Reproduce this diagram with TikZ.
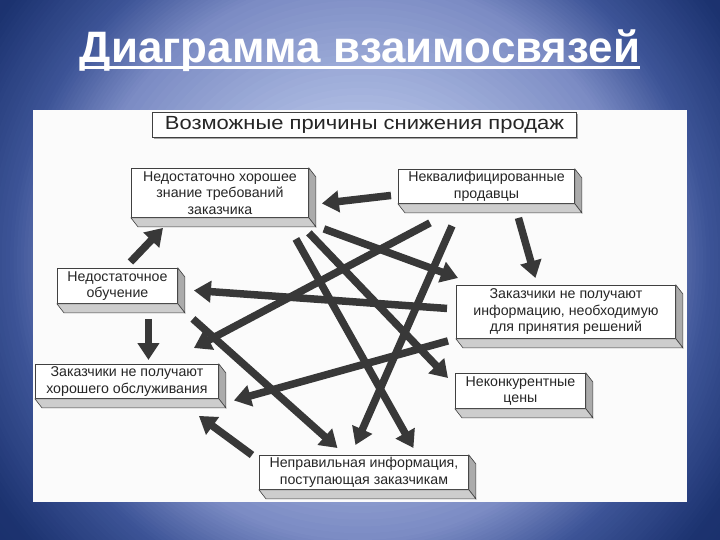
\documentclass[tikz,border=0pt]{standalone}
\usepackage{fontspec}
\setmainfont{Liberation Sans}
\usetikzlibrary{arrows.meta,calc}
\definecolor{bgA}{HTML}{C4CEF0}
\definecolor{bgB}{HTML}{AEBCE3}
\definecolor{bgC}{HTML}{7C8CC4}
\definecolor{bgD}{HTML}{3D5497}
\definecolor{bgE}{HTML}{1C3370}
\definecolor{bgF}{HTML}{172B66}
\definecolor{boxline}{HTML}{404040}
\definecolor{txt}{HTML}{262626}
\definecolor{arrowcol}{HTML}{383838}
\definecolor{rightface}{HTML}{ABABAB}
\definecolor{bottomface}{HTML}{CDCDCD}
\definecolor{panel}{HTML}{FBFBFB}
\begin{document}
\begin{tikzpicture}[x=1pt,y=-1pt,
  fbox/.style={draw=boxline, line width=0.9pt, fill=white, inner sep=0pt, align=center,
    font=\fontsize{14.2}{16.5}\selectfont, text=txt, anchor=north west},
  rface/.style={draw=boxline, line width=0.6pt, fill=rightface},
  bface/.style={draw=boxline, line width=0.6pt, fill=bottomface},
  arr/.style={draw=arrowcol, line width=7.5pt, -{Triangle[width=21pt,length=17pt]}},
  titlebox/.style={draw=boxline, line width=0.9pt, fill=white, inner sep=0pt, anchor=north west,
    text=black!85}]
\useasboundingbox (0,0) rectangle (720,540);
\begin{scope}
\clip (0,0) rectangle (720,540);
\fill[bgF] (0,0) rectangle (720,540);
\foreach \ra/\rb/\ca/\cb in {540/435/bgF/bgE, 435/350/bgE/bgD, 350/280/bgD/bgC, 280/145/bgC/bgB, 145/0/bgB/bgA}{
  \foreach \i in {0,...,19}{
    \pgfmathsetmacro\rr{\ra-(\ra-\rb)*\i/20}
    \pgfmathsetmacro\pp{100*\i/20}
    \fill[\cb!\pp!\ca] (360,260) circle (\rr);
  }
}
\end{scope}
% title
\node[inner sep=0pt, anchor=base, text=white] (title) at (360,63)
  {\resizebox{560pt}{\height}{\fontsize{44}{44}\selectfont\bfseries Диаграмма взаимосвязей}};
\draw[white, line width=3pt] ([yshift=-5pt]title.base west) -- ([yshift=-5pt]title.base east);
% panel
\fill[panel] (33,110) rectangle (687,502);
% heading box
\fill[black!35] (154,114) rectangle (578,139);
\node[titlebox, minimum width=424pt, minimum height=25pt] (T) at (152,112)
  {\resizebox{399pt}{\height}{\fontsize{19}{20}\selectfont Возможные причины снижения продаж}};
% boxes
\node[fbox, minimum width=177pt, minimum height=49pt] (A) at (131,168)
  {Недостаточно хорошее\\знание требований\\заказчика};
\node[fbox, minimum width=176pt, minimum height=34pt] (B) at (398,169)
  {Неквалифицированные\\продавцы};
\node[fbox, minimum width=120pt, minimum height=35pt] (C) at (57,268)
  {Недостаточное\\обучение};
\node[fbox, minimum width=183pt, minimum height=34pt] (D) at (35,364)
  {Заказчики не получают\\хорошего обслуживания};
\node[fbox, minimum width=219pt, minimum height=53pt] (E) at (456,285)
  {Заказчики не получают\\информацию, необходимую\\для принятия решений};
\node[fbox, minimum width=130pt, minimum height=35pt] (F) at (455,373)
  {Неконкурентные\\цены};
\node[fbox, minimum width=209pt, minimum height=34pt] (G) at (259,455)
  {Неправильная информация,\\поступающая заказчикам};
\foreach \n in {A,B,C,D,E,F,G}{
  \draw[rface] (\n.north east) -- ++(7,9) -- ($(\n.south east)+(7,9)$) -- (\n.south east) -- cycle;
  \draw[bface] (\n.south west) -- ++(7,9) -- ($(\n.south east)+(7,9)$) -- (\n.south east) -- cycle;
}
% arrows
\draw[arr] ($(B.west)+(-7,9)$) -- ($(A.east)+(13,10.5)$);
\draw[arr] ($(B.south)+(32,14)$) -- ($(E.north)+(-30.5,-7)$);
\draw[arr] ($(C.north)+(13,-6)$) -- ($(A.south west)+(32,10)$);
\draw[arr] ($(C.south)+(31,15)$) -- ($(D.north)+(21.5,-4)$);
\draw[arr] ($(G.north west)+(-7,0)$) -- ($(D.south east)+(-20,17)$);
\draw[arr] ($(A.south east)+(15,11)$) -- ($(E.north west)+(2,-7)$);
\draw[arr] ($(B.south west)+(32,19)$) -- ($(D.north east)+(-25,-16)$);
\draw[arr] ($(B.south west)+(54,22)$) -- ($(G.north)+(-8.5,-10)$);
\draw[arr] ($(E.west)+(-9,-3.5)$) -- ($(C.east)+(16,4.5)$);
\draw[arr] ($(E.south west)+(-8,2)$) -- ($(D.east)+(15,19)$);
\draw[arr] ($(A.south east)+(0,15)$) -- ($(F.north west)+(-7,5)$);
\draw[arr] ($(A.south east)+(-13,21)$) -- ($(G.north)+(49.5,-7)$);
\draw[arr] ($(C.south east)+(15,15)$) -- ($(G.north)+(-26.5,-7)$);
\end{tikzpicture}
\end{document}
